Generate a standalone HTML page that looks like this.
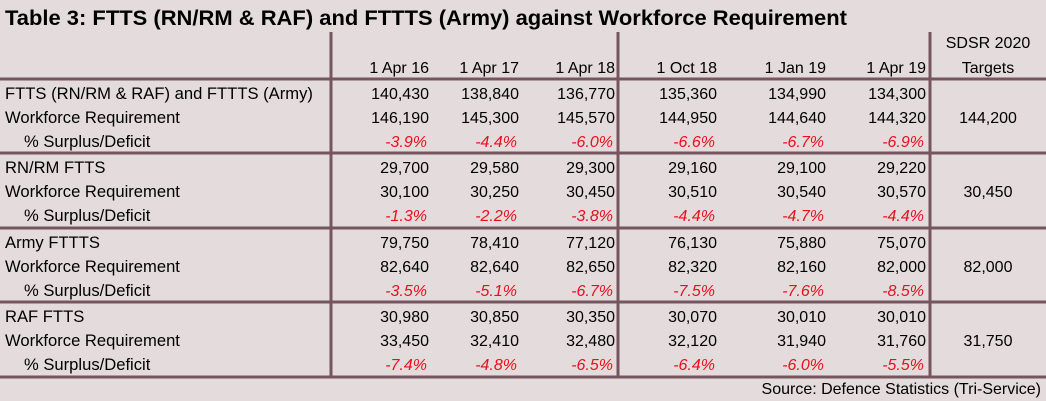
<!DOCTYPE html>
<html><head><meta charset="utf-8"><style>
html,body{margin:0;padding:0;background:#e3dbdc;}
svg{display:block;font-family:"Liberation Sans",Arial,sans-serif;}
</style></head><body>
<svg id="t" width="1046" height="401" viewBox="0 0 1046 401">
<rect x="0" y="0" width="1046" height="401" fill="#e3dbdc"/>
<text x="5" y="25" font-size="21" font-weight="bold" fill="#000" textLength="842" lengthAdjust="spacingAndGlyphs">Table 3: FTTS (RN/RM &amp; RAF) and FTTTS (Army) against Workforce Requirement</text>
<g id="grid"></g>
<g id="cells"></g>
<text x="1041" y="394" font-size="16" text-anchor="end" fill="#000">Source: Defence Statistics (Tri-Service)</text>
</svg>
<script>
const dates = ["1 Apr 16","1 Apr 17","1 Apr 18","1 Oct 18","1 Jan 19","1 Apr 19"];
const groupLabels = ["FTTS (RN/RM & RAF) and FTTTS (Army)","RN/RM FTTS","Army FTTTS","RAF FTTS"];
const strength = [
  ["140,430","138,840","136,770","135,360","134,990","134,300"],
  ["29,700","29,580","29,300","29,160","29,100","29,220"],
  ["79,750","78,410","77,120","76,130","75,880","75,070"],
  ["30,980","30,850","30,350","30,070","30,010","30,010"]];
const requirement = [
  ["146,190","145,300","145,570","144,950","144,640","144,320"],
  ["30,100","30,250","30,450","30,510","30,540","30,570"],
  ["82,640","82,640","82,650","82,320","82,160","82,000"],
  ["33,450","32,410","32,480","32,120","31,940","31,760"]];
const surplus = [
  ["-3.9%","-4.4%","-6.0%","-6.6%","-6.7%","-6.9%"],
  ["-1.3%","-2.2%","-3.8%","-4.4%","-4.7%","-4.4%"],
  ["-3.5%","-5.1%","-6.7%","-7.5%","-7.6%","-8.5%"],
  ["-7.4%","-4.8%","-6.5%","-6.4%","-6.0%","-5.5%"]];
const targets = ["144,200","30,450","82,000","31,750"];

const NS="http://www.w3.org/2000/svg";
const colRight=[429,519,615,717,826,926];
const groupTop=[79,153,228,302];
const lineColor="#76565e";
const grid=document.getElementById('grid');
const cells=document.getElementById('cells');
function line(x1,y1,x2,y2,name){
  const l=document.createElementNS(NS,'line');
  l.setAttribute('x1',x1);l.setAttribute('y1',y1);l.setAttribute('x2',x2);l.setAttribute('y2',y2);
  l.setAttribute('stroke',lineColor);l.setAttribute('stroke-width',3);
  
  
  grid.appendChild(l);
}
function txt(x,y,s,anchor,fill,italic,name,size){
  const t=document.createElementNS(NS,'text');
  t.setAttribute('x',x);t.setAttribute('y',y);t.setAttribute('font-size',size||16);
  t.setAttribute('text-anchor',anchor);t.setAttribute('fill',fill);
  if(italic)t.setAttribute('font-style','italic');
  t.textContent=s;
  
  
  cells.appendChild(t);
}
[79,153,228,302,377].forEach(y=>line(0,y,1046,y,'row-divider'));
[331,618,930].forEach(x=>line(x,32,x,377,'column-divider'));
dates.forEach((d,i)=>txt(colRight[i],73,d,'end','#000',false,'column-header'));
txt(988,48,"SDSR 2020",'middle','#000',false,'targets-header');
txt(988,73,"Targets",'middle','#000',false,'targets-header');
groupLabels.forEach((g,gi)=>{
  const y0=groupTop[gi];
  txt(5,y0+20,g,'start','#000',false,'group-label',16.6);
  txt(5,y0+44,"Workforce Requirement",'start','#000',false,'requirement-label',16.6);
  txt(24,y0+68,"% Surplus/Deficit",'start','#000',false,'surplus-label',16.6);
  dates.forEach((d,i)=>{
    txt(colRight[i],y0+20,strength[gi][i],'end','#000',false,'strength-value');
    txt(colRight[i],y0+44,requirement[gi][i],'end','#000',false,'requirement-value');
    txt(colRight[i]-2,y0+68,surplus[gi][i],'end','#e8101c',true,'surplus-value');
  });
  txt(988,y0+44,targets[gi],'middle','#000',false,'target-value');
});
</script>
</body></html>
